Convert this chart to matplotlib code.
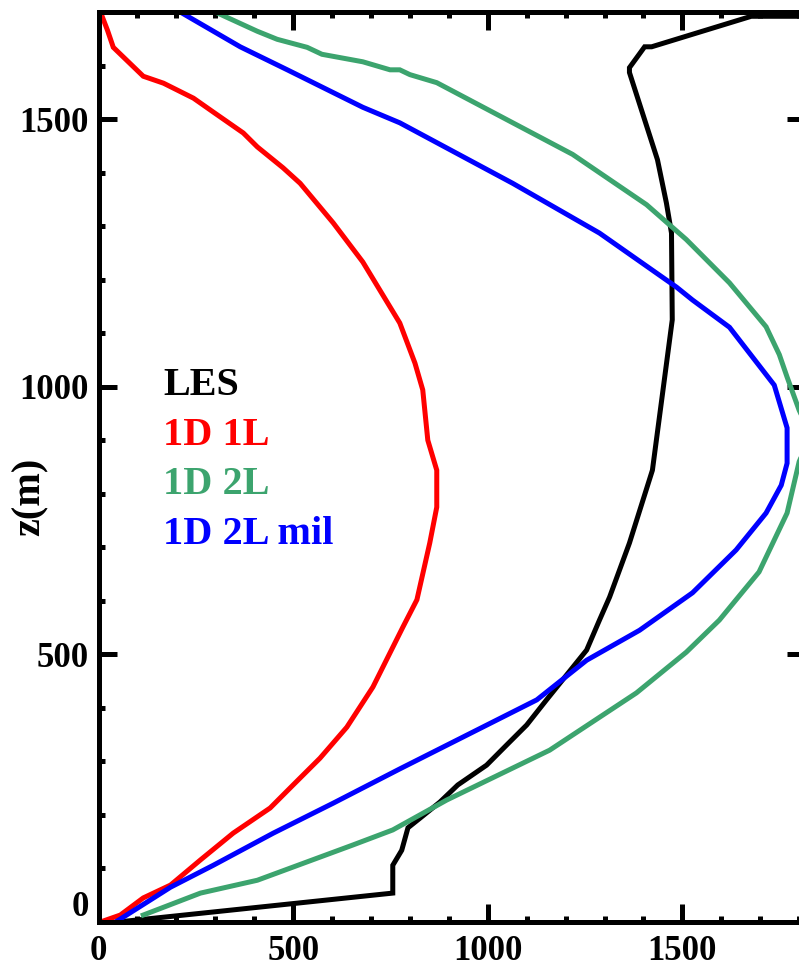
import matplotlib.pyplot as plt
import matplotlib.transforms as mtransforms
from matplotlib.ticker import MultipleLocator

plt.rcParams['font.family'] = ['Liberation Serif', 'DejaVu Serif']
plt.rcParams['font.weight'] = 'bold'

# LES profile
les_x = [50, 756, 756, 779, 795, 826, 877, 923, 997, 1049, 1100, 1151, 1254, 1287,
         1313, 1364, 1423, 1474, 1472, 1459, 1436, 1364, 1364, 1403, 1421, 1677, 1850]
les_z = [0, 54, 106, 134, 176, 194, 224, 256, 293, 331, 368, 415, 508, 564,
         607, 708, 844, 1125, 1287, 1343, 1424, 1587, 1596, 1635, 1635, 1692, 1692]

# 1D 1L
l1_x = [5, 56, 115, 185, 262, 346, 441, 500, 569, 638, 705, 782, 818, 851, 869, 869,
        846, 833, 813, 774, 749, 679, 603, 518, 474, 408, 372, 295, 244, 167, 115, 38, 23, 5]
l1_z = [0, 13, 45, 69, 116, 166, 213, 256, 306, 364, 439, 551, 602, 708, 775, 844,
        900, 994, 1044, 1119, 1149, 1233, 1306, 1380, 1409, 1448, 1474, 1513, 1539, 1567,
        1580, 1634, 1666, 1700]

# 1D 2L
l2_x = [115, 262, 408, 654, 756, 895, 1159, 1382, 1510, 1595, 1638, 1697, 1769, 1800,
        1830, 1800, 1769, 1749, 1715, 1621, 1510, 1408, 1218, 869, 800, 774, 749, 679,
        574, 536, 459, 408, 300]
l2_z = [13, 54, 78, 144, 172, 228, 321, 428, 504, 564, 602, 654, 764, 860,
        910, 956, 1018, 1060, 1112, 1194, 1275, 1340, 1434, 1568, 1583, 1592, 1592, 1607,
        1621, 1634, 1649, 1664, 1700]

# 1D 2L mil
mil_x = [44, 185, 295, 449, 603, 774, 1126, 1254, 1390, 1526, 1638, 1715, 1754, 1769,
         1769, 1736, 1621, 1526, 1485, 1338, 1287, 1064, 774, 679, 485, 364, 210]
mil_z = [0, 65, 106, 166, 222, 286, 415, 489, 545, 615, 695, 764, 816, 857,
         923, 1003, 1111, 1162, 1186, 1261, 1287, 1380, 1493, 1522, 1592, 1635, 1700]

names = ['LES', '1D 1L', '1D 2L', '1D 2L mil']
colors = ['black', '#ff0000', '#3ca46e', '#0000ff']

W, H = 799, 969
fig = plt.figure(figsize=(W / 100, H / 100), dpi=100)
ax = fig.add_axes([98.5 / W, 47 / H, (805 - 98.5) / W, 910 / H])

series = [(les_x, les_z), (l1_x, l1_z), (l2_x, l2_z), (mil_x, mil_z)]
for (xs, zs), c in zip(series, colors):
    ax.plot(xs, zs, color=c, lw=3.6, solid_joinstyle='miter')

ax.set_xlim(0, 1815)
ax.set_ylim(0, 1700)

for s in ax.spines.values():
    s.set_linewidth(3.6)

ax.xaxis.set_major_locator(MultipleLocator(500))
ax.xaxis.set_minor_locator(MultipleLocator(100))
ax.yaxis.set_major_locator(MultipleLocator(500))
ax.yaxis.set_minor_locator(MultipleLocator(100))
ax.tick_params(which='both', direction='in', top=True, right=True, width=3.6)
ax.tick_params(which='major', length=13, labelsize=25)
ax.tick_params(which='minor', length=4.5)
ax.tick_params(axis='x', pad=9)
ax.tick_params(axis='y', pad=7)
for lab in ax.get_xticklabels() + ax.get_yticklabels():
    lab.set_fontweight('bold')

# lift the 0 label on the z axis so it clears the x labels
fig.canvas.draw()
shift = mtransforms.ScaledTranslation(0, 19 / 100, fig.dpi_scale_trans)
for lab in ax.get_yticklabels():
    if lab.get_text() == '0':
        lab.set_transform(lab.get_transform() + shift)

fig.text(30 / W, 1 - 497 / H, 'z(m)', rotation=90, fontsize=29, fontweight='bold',
         ha='center', va='center')

# series names written in their line colours
for i, (n, c) in enumerate(zip(names, colors)):
    fig.text(163 / W, 1 - (385 + 50 * i) / H, n, color=c, fontsize=29,
             fontweight='bold', ha='left', va='center')

fig.savefig('out.png', dpi=100)
